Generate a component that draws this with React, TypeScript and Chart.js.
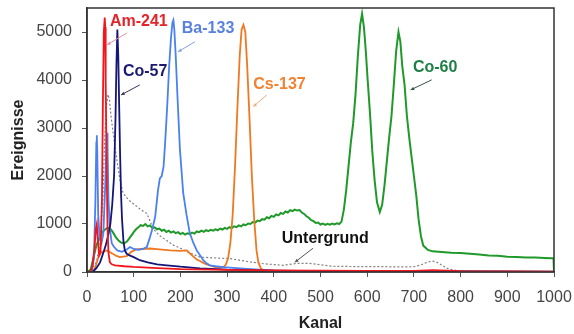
import { useEffect, useRef } from "react";
import { Chart, registerables } from "chart.js";

Chart.register(...registerables);

const FONT = '"Liberation Sans", Arial, Helvetica, sans-serif';

const xTickValues = [0, 100, 200, 300, 400, 500, 600, 700, 800, 900, 1000];
const yTickValues = [0, 1000, 2000, 3000, 4000, 5000];

// Am-241
const am241X = [0, 8, 12, 16, 19, 21, 23, 26, 29, 32, 34, 36, 38, 39, 40, 42, 44, 46, 49, 53, 60, 80, 100, 150, 200, 300, 400, 500, 600, 700, 740, 800, 900, 1000];
const am241Y = [0, 0, 150, 500, 900, 1000, 700, 350, 420, 1500, 3500, 5000, 5300, 5100, 4000, 2200, 900, 400, 200, 160, 140, 120, 105, 80, 60, 45, 35, 30, 25, 25, 40, 20, 10, 5];

// Co-57
const co57X = [0, 12, 20, 28, 35, 40, 45, 50, 54, 58, 61, 63, 65, 67, 69, 71, 73, 75, 78, 81, 85, 90, 100, 113, 130, 150, 171, 200, 242, 300, 400, 500, 600, 740, 800, 1000];
const co57Y = [0, 0, 80, 200, 400, 550, 750, 1000, 1400, 2000, 3200, 4300, 5050, 4500, 3400, 2400, 1600, 1100, 650, 450, 380, 350, 310, 245, 200, 160, 140, 110, 77, 50, 30, 20, 15, 20, 10, 5];

// Ba-133
const ba133X = [0, 10, 15, 18, 20, 21, 22, 24, 27, 31, 35, 39, 42, 43, 44, 46, 49, 53, 58, 65, 75, 85, 92, 100, 110, 120, 128, 134, 140, 146, 152, 156, 160, 164, 168, 172, 176, 180, 183, 185, 187, 190, 194, 199, 206, 213, 220, 228, 235, 242, 249, 256, 263, 275, 292, 320, 350, 400, 500, 600, 800, 1000];
const ba133Y = [0, 0, 300, 1500, 2700, 2850, 2500, 1200, 700, 600, 800, 1800, 2800, 2900, 2600, 1500, 900, 600, 520, 450, 420, 470, 520, 480, 460, 480, 520, 700, 900, 1150, 1700, 1950, 2000, 2200, 2800, 3500, 4300, 4900, 5200, 5250, 5050, 4500, 3600, 2550, 1650, 1200, 810, 600, 450, 350, 245, 180, 140, 120, 100, 80, 60, 30, 15, 8, 5, 3];

// Cs-137
const cs137X = [0, 12, 18, 24, 30, 36, 42, 48, 55, 62, 70, 78, 85, 95, 105, 115, 135, 155, 178, 200, 214, 220, 228, 235, 242, 249, 256, 265, 275, 285, 292, 297, 302, 307, 312, 317, 322, 327, 331, 335, 339, 343, 348, 353, 358, 363, 367, 372, 377, 385, 400, 500, 600, 800, 1000];
const cs137Y = [0, 0, 100, 300, 400, 430, 450, 420, 380, 340, 310, 320, 330, 420, 470, 480, 490, 470, 450, 440, 450, 390, 320, 260, 230, 190, 160, 130, 100, 90, 100, 150, 280, 600, 1200, 2200, 3400, 4500, 5050, 5150, 5000, 4300, 3200, 2000, 1100, 450, 200, 80, 40, 30, 25, 15, 10, 5, 3];

// Co-60
const co60X = [0, 8, 14, 20, 26, 32, 38, 44, 50, 56, 62, 68, 74, 80, 86, 92, 98,
  100, 105, 110, 115, 120, 125, 130, 135, 140, 145, 150, 155, 160, 165, 170, 175, 180, 185, 190, 195,
  200, 205, 210, 215, 220, 225, 230, 235, 240, 245, 250, 255, 260, 265, 270, 275, 280, 285, 290, 295,
  300, 305, 310, 315, 320, 325, 330, 335, 340, 345, 350, 355, 360, 365, 370, 375, 380, 385, 390, 395,
  400, 405, 410, 415, 420, 425, 430, 435, 440, 445, 450, 455, 460, 465, 470, 475, 480, 485, 490, 495,
  500, 505, 510, 515, 520, 525, 530, 535, 540, 545, 550, 555, 560, 565, 570, 575, 580, 585, 589, 593,
  597, 601, 606, 611, 616, 621, 627, 632, 637, 642, 647, 652, 657, 662, 667, 671, 675, 680, 685, 690,
  695, 700, 705, 710, 715, 720, 730, 740, 760, 780, 800, 820, 840, 860, 880, 900, 920, 940, 960, 980, 995, 999, 1000];
const co60Y = [0, 50, 300, 550, 700, 820, 880, 920, 900, 820, 720, 650, 610, 600, 640, 720, 800,
  830, 890, 930, 975, 960, 1000, 950, 970, 915, 930, 890, 905, 860, 880, 835, 860, 820, 845, 810, 830,
  790, 815, 780, 805, 790, 820, 800, 845, 830, 860, 835, 870, 850, 880, 860, 890, 870, 905, 885, 920,
  900, 935, 915, 950, 935, 970, 950, 990, 975, 1010, 1000, 1040, 1030, 1070, 1060, 1100, 1090, 1140, 1120, 1170,
  1150, 1200, 1180, 1230, 1210, 1260, 1240, 1290, 1270, 1300, 1280, 1290, 1240, 1210, 1160, 1130, 1080, 1060, 1020, 1030,
  990, 1010, 980, 1005, 985, 1010, 990, 1015, 1000, 1050, 1300, 1700, 2200, 2700, 3100, 3700, 4500, 5150, 5380, 5100,
  4600, 4000, 3300, 2500, 1900, 1450, 1250, 1400, 1800, 2300, 2800, 3250, 3900, 4600, 5000, 4800, 4300, 3900, 3250, 2800,
  2400, 2000, 1600, 1100, 750, 550, 460, 430, 415, 400, 395, 380, 365, 345, 340, 320, 315, 300, 300, 290, 285, 285, 0];

// Untergrund
const bgX = [0, 10, 20, 28, 34, 38, 42, 45, 48, 52, 56, 60, 66, 71, 77, 85, 95, 105, 115, 128, 142, 155, 170, 185, 199, 215, 230, 242, 260, 280, 306, 330, 349, 380, 420, 449, 477, 500, 527, 560, 600, 640, 670, 700, 713, 725, 735, 741, 750, 760, 770, 785, 800, 850, 900, 1000];
const bgY = [0, 50, 200, 600, 1500, 2800, 3500, 3700, 3600, 3200, 2900, 2600, 2200, 1900, 1650, 1550, 1450, 1380, 1300, 1220, 900, 760, 660, 560, 500, 420, 360, 310, 300, 290, 280, 240, 210, 170, 140, 180, 180, 150, 120, 115, 110, 110, 105, 110, 140, 190, 220, 225, 200, 140, 80, 40, 20, 10, 5, 0];

// Annotations (data coordinates)
const annText = ["Am-241", "Ba-133", "Co-57", "Cs-137", "Co-60", "Untergrund"];
const annColor = ["#e3242b", "#5a80e0", "#1a1a70", "#f08232", "#1e7f45", "#111111"];
const annArrowColor = ["#e890a0", "#80a0e0", "#333355", "#f0a878", "#335544", "#555555"];
const annX = [49, 203, 77, 356, 698, 417];
const annY = [5213, 5067, 4170, 3900, 4253, 703];
const arrowTailX = [86, 231, 113, 385, 738, 484];
const arrowTailY = [4983, 4795, 3898, 3690, 4003, 495];
const arrowHeadX = [43, 195, 73, 356, 693, 445];
const arrowHeadY = [4733, 4587, 3689, 3445, 3793, 203];

const pts = (xs: number[], ys: number[]) => xs.map((x, i) => ({ x, y: ys[i] }));

const annotationPlugin = {
  id: "annots",
  afterDatasetsDraw(chart: any) {
    const { ctx, chartArea: ca } = chart;
    const xs = chart.scales.x;
    const ys = chart.scales.y;
    ctx.save();
    ctx.strokeStyle = "#333333";
    ctx.lineWidth = 1.5;
    ctx.strokeRect(ca.left, ca.top, ca.right - ca.left, ca.bottom - ca.top);
    annText.forEach((t, i) => {
      const x0 = xs.getPixelForValue(arrowTailX[i]);
      const y0 = ys.getPixelForValue(arrowTailY[i]);
      const x1 = xs.getPixelForValue(arrowHeadX[i]);
      const y1 = ys.getPixelForValue(arrowHeadY[i]);
      ctx.strokeStyle = annArrowColor[i];
      ctx.fillStyle = annArrowColor[i];
      ctx.lineWidth = 1;
      ctx.beginPath();
      ctx.moveTo(x0, y0);
      ctx.lineTo(x1, y1);
      ctx.stroke();
      const ang = Math.atan2(y1 - y0, x1 - x0);
      const hl = 4;
      ctx.beginPath();
      ctx.moveTo(x1, y1);
      ctx.lineTo(x1 - hl * Math.cos(ang - 0.45), y1 - hl * Math.sin(ang - 0.45));
      ctx.lineTo(x1 - hl * Math.cos(ang + 0.45), y1 - hl * Math.sin(ang + 0.45));
      ctx.closePath();
      ctx.fill();
      ctx.font = `bold 16px ${FONT}`;
      ctx.fillStyle = annColor[i];
      ctx.textAlign = "left";
      ctx.textBaseline = "middle";
      ctx.fillText(t, xs.getPixelForValue(annX[i]), ys.getPixelForValue(annY[i]));
    });
    ctx.restore();
  },
};

export default function App() {
  const ref = useRef<HTMLCanvasElement | null>(null);
  useEffect(() => {
    document.body.style.margin = "0";
    const mk = (label: string, xs: number[], ys: number[], color: string, width: number, order: number, dash?: number[]) => ({
      label,
      data: pts(xs, ys),
      borderColor: color,
      backgroundColor: color,
      borderWidth: width,
      pointRadius: 0,
      tension: 0,
      fill: false,
      order,
      borderDash: dash || [],
    });
    const chart = new Chart(ref.current as HTMLCanvasElement, {
      type: "line",
      data: {
        datasets: [
          mk("Am-241", am241X, am241Y, "#f2161c", 1.8, 0),
          mk("Co-57", co57X, co57Y, "#15157a", 1.8, 1),
          mk("Ba-133", ba133X, ba133Y, "#4a80f0", 1.8, 2),
          mk("Cs-137", cs137X, cs137Y, "#f07820", 1.8, 3),
          mk("Co-60", co60X, co60Y, "#1f9a2a", 2, 4),
          mk("Untergrund", bgX, bgY, "#808080", 1.2, 5, [2, 2]),
        ],
      },
      options: {
        responsive: false,
        animation: false,
        devicePixelRatio: 1,
        parsing: false as any,
        layout: { padding: { left: 0, right: 20, top: 8, bottom: 0 } },
        plugins: { legend: { display: false }, tooltip: { enabled: false } },
        scales: {
          x: {
            type: "linear",
            min: 0,
            max: 1000,
            afterBuildTicks: (s: any) => {
              s.ticks = xTickValues.map((v) => ({ value: v }));
            },
            ticks: { color: "#454545", font: { family: FONT, size: 16 }, padding: 11, maxRotation: 0, autoSkip: false, callback: (v: any) => String(v) },
            grid: { drawOnChartArea: false, drawTicks: true, tickLength: 5, color: "#555555" },
            border: { display: true, color: "#333333", width: 1.5 },
            title: { display: true, text: "Kanal", color: "#222222", font: { family: FONT, size: 16, weight: "bold" }, padding: { top: 0, bottom: 1 } },
            afterFit: (s: any) => {
              s.height = 62;
              s.paddingLeft = 0;
              s.paddingRight = 0;
            },
          },
          y: {
            type: "linear",
            min: 0,
            max: 5500,
            afterBuildTicks: (s: any) => {
              s.ticks = yTickValues.map((v) => ({ value: v }));
            },
            ticks: { color: "#454545", font: { family: FONT, size: 16 }, padding: 10, callback: (v: any) => String(v) },
            grid: { drawOnChartArea: false, drawTicks: true, tickLength: 5, color: "#555555" },
            border: { display: true, color: "#333333", width: 1.5 },
            title: { display: true, text: "Ereignisse", color: "#222222", font: { family: FONT, size: 16, weight: "bold" }, padding: { top: 9, bottom: 0 } },
            afterFit: (s: any) => {
              s.width = 87;
              s.paddingTop = 0;
              s.paddingBottom = 0;
            },
          },
        },
      },
      plugins: [annotationPlugin],
    });
    return () => chart.destroy();
  }, []);
  return (
    <div style={{ position: "fixed", left: 0, top: 0, width: 574, height: 334 }}>
      <canvas ref={ref} width={574} height={334} style={{ width: 574, height: 334 }} />
    </div>
  );
}
